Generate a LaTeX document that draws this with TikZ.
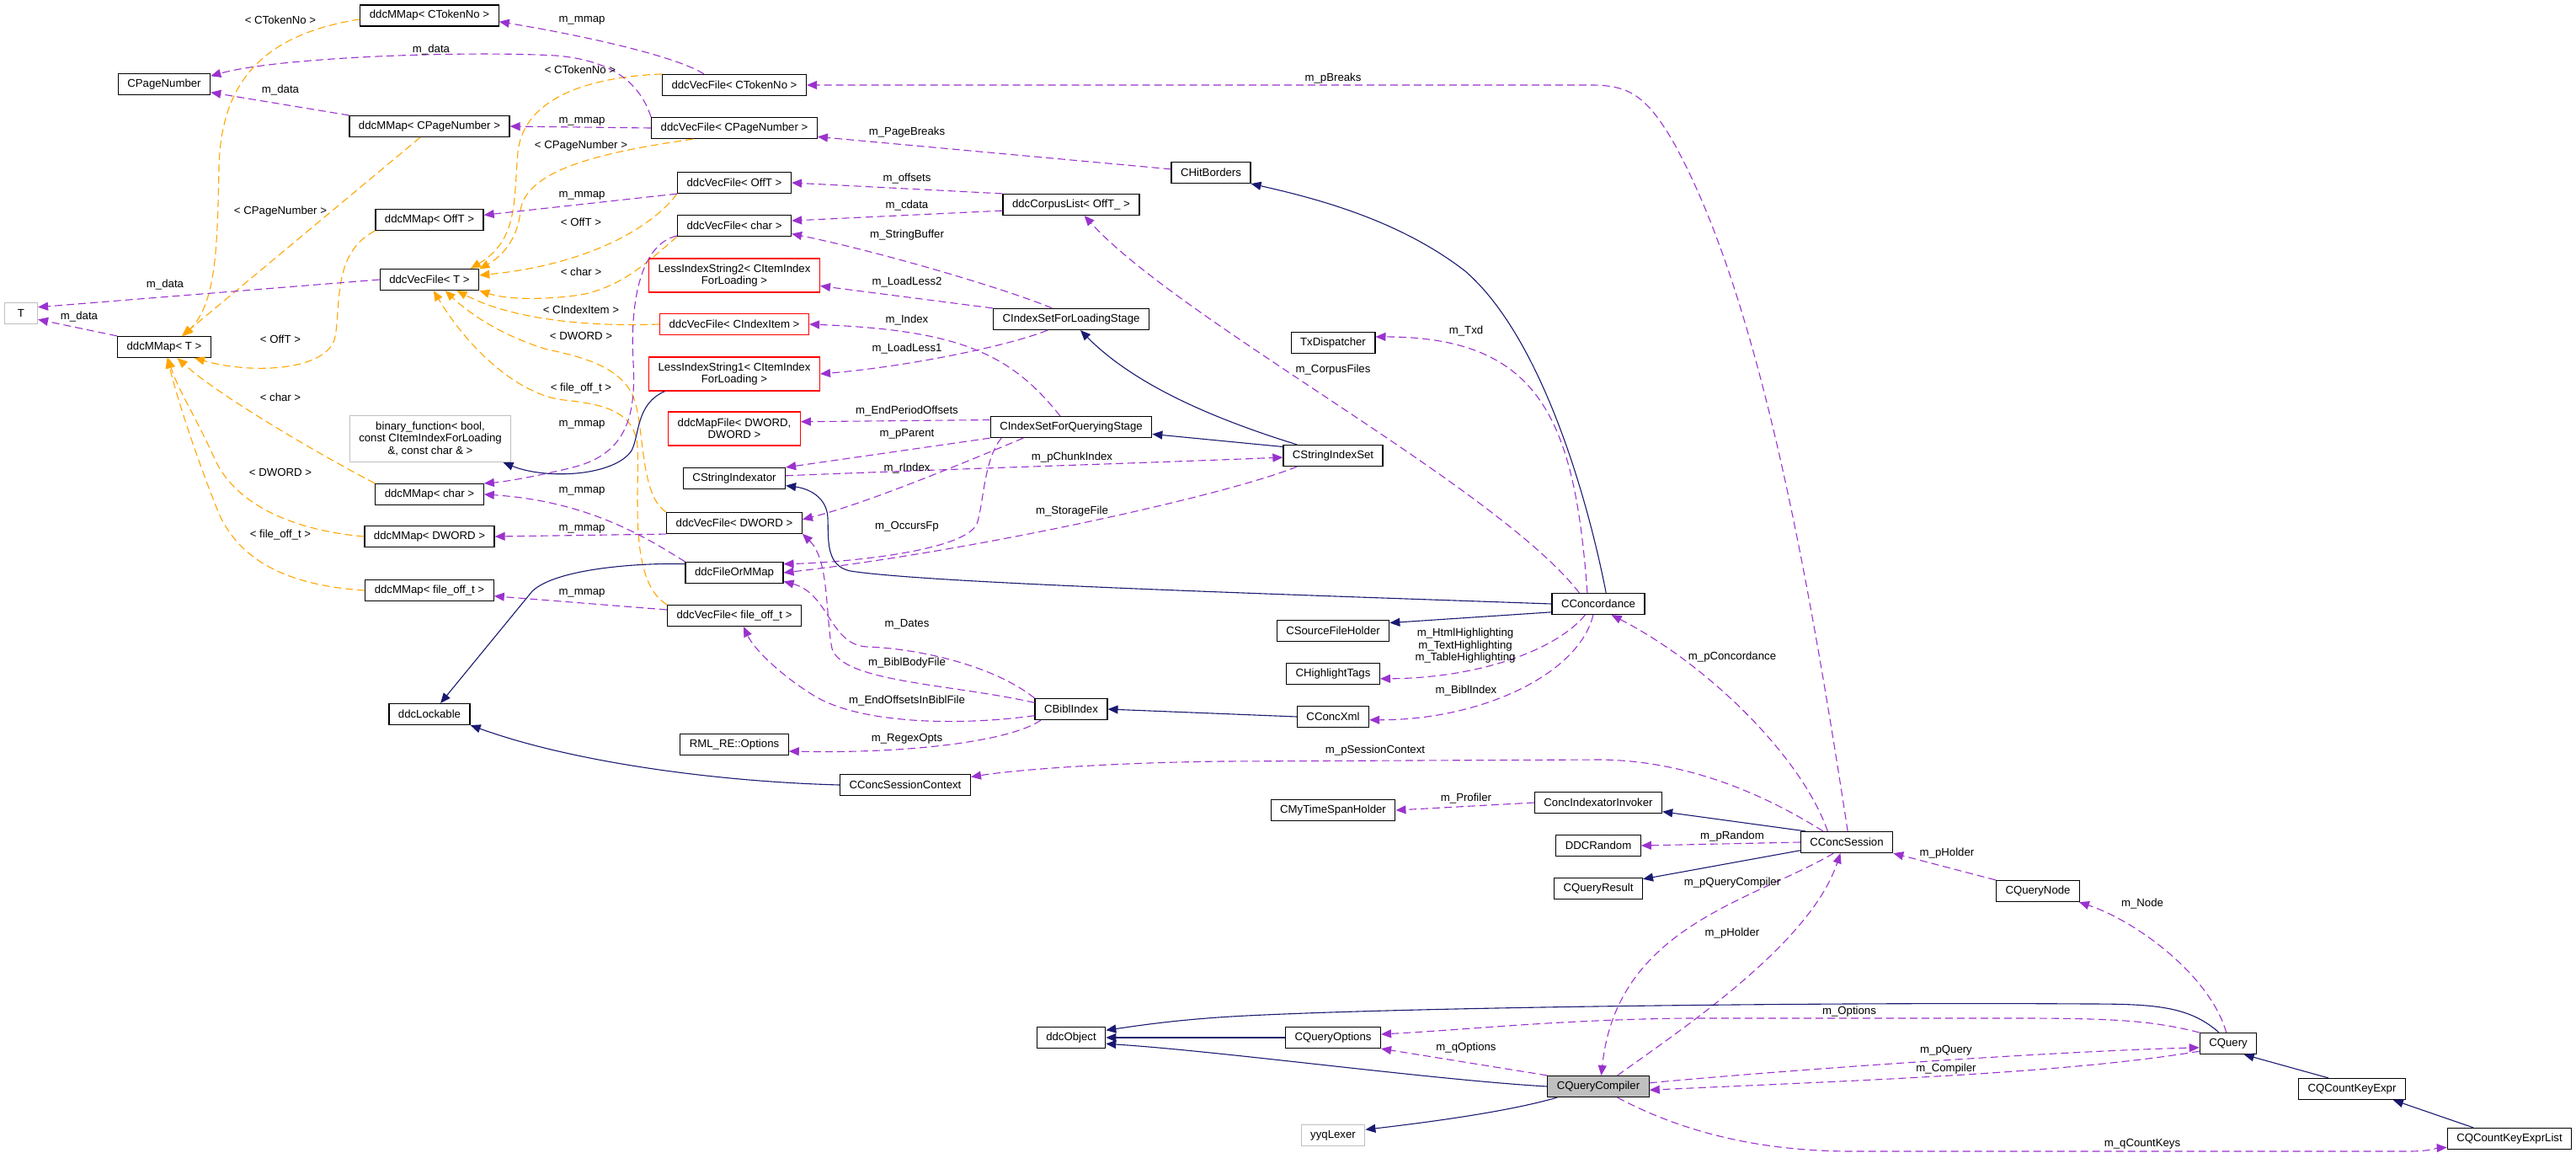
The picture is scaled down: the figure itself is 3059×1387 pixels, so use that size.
\documentclass[tikz,border=0pt]{standalone}
\usepackage{fontspec}
\setmainfont{Liberation Sans}
\usepackage{tikz}
\usepackage{xcolor}
\usetikzlibrary{arrows.meta, positioning}
\definecolor{usepurple}{HTML}{9A32CD}
\definecolor{tplorange}{HTML}{FFA500}
\definecolor{inhnavy}{HTML}{191970}
\tikzstyle{cls} = [draw=black, line width=1.2pt, fill=white,
minimum height=25pt, inner xsep=11pt, inner ysep=3pt,
align=center, font=\fontsize{13.2}{14.5}\selectfont]
\tikzstyle{redcls} = [cls, draw=red]
\tikzstyle{greycls} = [cls, draw=black!25]
\tikzstyle{lbl} = [inner sep=0pt, align=center, font=\fontsize{13.2}{14.5}\selectfont]
\tikzstyle{usage} = [usepurple, line width=1.1pt, dash pattern=on 9pt off 5pt,
-{Triangle[length=12pt, width=10pt]}]
\tikzstyle{templ} = [tplorange, line width=1.1pt, dash pattern=on 9pt off 5pt,
-{Triangle[length=12pt, width=10pt]}]
\tikzstyle{inherit} = [inhnavy, line width=1.1pt, -{Triangle[length=12pt, width=10pt]}]

\begin{document}
\begin{tikzpicture}[x=1pt, y=-1pt]
    \useasboundingbox (0,0) rectangle (3059,1387);

    % classes
    \node[greycls, minimum width=39pt] (T) at (25,372) {T};
    \node[cls] (cpn) at (195,100) {CPageNumber};
    \node[cls] (mmT) at (195,412) {ddcMMap< T >};
    \node[cls] (mmTok) at (510,18.5) {ddcMMap< CTokenNo >};
    \node[cls] (mmCpn) at (510,150) {ddcMMap< CPageNumber >};
    \node[cls] (mmOff) at (510,261) {ddcMMap< OffT >};
    \node[cls] (vfT) at (510,332) {ddcVecFile< T >};
    \node[greycls, minimum height=55pt] (binf) at (511,521) {binary\_function< bool,\\ const CItemIndexForLoading\\ \&, const char \& >};
    \node[cls] (mmChar) at (510,587) {ddcMMap< char >};
    \node[cls] (mmDw) at (510,637) {ddcMMap< DWORD >};
    \node[cls] (mmFo) at (510,701) {ddcMMap< file\_off\_t >};
    \node[cls] (lock) at (510,848) {ddcLockable};
    \node[cls] (vfTok) at (872,101) {ddcVecFile< CTokenNo >};
    \node[cls] (vfCpn) at (872,152) {ddcVecFile< CPageNumber >};
    \node[cls] (vfOff) at (872,217) {ddcVecFile< OffT >};
    \node[cls] (vfChar) at (872,268) {ddcVecFile< char >};
    \node[redcls, minimum height=40pt] (lis2) at (872,327) {LessIndexString2< CItemIndex\\ForLoading >};
    \node[redcls] (vfItem) at (872,385) {ddcVecFile< CIndexItem >};
    \node[redcls, minimum height=40pt] (lis1) at (872,444) {LessIndexString1< CItemIndex\\ForLoading >};
    \node[redcls, minimum height=40pt] (mapf) at (872,509) {ddcMapFile< DWORD,\\DWORD >};
    \node[cls] (sidx) at (872,568) {CStringIndexator};
    \node[cls] (vfDw) at (872,621) {ddcVecFile< DWORD >};
    \node[cls] (fomm) at (872,680) {ddcFileOrMMap};
    \node[cls] (vfFo) at (872,731) {ddcVecFile< file\_off\_t >};
    \node[cls] (rml) at (872,884) {RML\_RE::Options};
    \node[cls] (ctx) at (1075,932) {CConcSessionContext};
    \node[cls] (corp) at (1272,243) {ddcCorpusList< OffT\_ >};
    \node[cls] (isLoad) at (1272,379) {CIndexSetForLoadingStage};
    \node[cls] (isQuery) at (1272,507) {CIndexSetForQueryingStage};
    \node[cls] (bibl) at (1272,842) {CBiblIndex};
    \node[cls] (obj) at (1272,1232) {ddcObject};
    \node[cls] (hit) at (1438,205) {CHitBorders};
    \node[cls] (txd) at (1583,407) {TxDispatcher};
    \node[cls] (sset) at (1583,541) {CStringIndexSet};
    \node[cls] (src) at (1583,749) {CSourceFileHolder};
    \node[cls] (hl) at (1583,800) {CHighlightTags};
    \node[cls] (cxml) at (1583,851) {CConcXml};
    \node[cls] (mts) at (1583,962) {CMyTimeSpanHolder};
    \node[cls] (qopt) at (1583,1232) {CQueryOptions};
    \node[greycls] (lex) at (1583,1348) {yyqLexer};
    \node[cls] (conc) at (1898,717) {CConcordance};
    \node[cls] (invk) at (1898,953) {ConcIndexatorInvoker};
    \node[cls] (rnd) at (1898,1004) {DDCRandom};
    \node[cls] (qres) at (1898,1055) {CQueryResult};
    \node[cls, fill=black!25] (qc) at (1898,1290) {CQueryCompiler};
    \node[cls] (sess) at (2193,1000) {CConcSession};
    \node[cls] (qnode) at (2420,1058) {CQueryNode};
    \node[cls] (query) at (2646,1239) {CQuery};
    \node[cls] (cke) at (2793,1293) {CQCountKeyExpr};
    \node[cls] (ckel) at (2980,1352) {CQCountKeyExprList};

    % template instances
    \draw[templ] (mmTok.-177) .. controls (320,40) and (262,90) .. (260,200) .. controls (258,300) and (256,360) .. (mmT.30);
    \draw[templ] (mmCpn.-130) -- (mmT.32);
    \draw[templ] (mmOff.south west) .. controls (395,300) and (405,360) .. (398,400) .. controls (390,440) and (300,445) .. (mmT.-20);
    \draw[templ] (mmChar.north west) .. controls (380,540) and (260,470) .. (mmT.-40);
    \draw[templ] (mmDw.west) .. controls (350,630) and (280,600) .. (255,545) .. controls (235,500) and (210,460) .. (mmT.-70);
    \draw[templ] (mmFo.west) .. controls (340,695) and (285,665) .. (260,610) .. controls (240,560) and (215,490) .. (mmT.-75);
    \draw[templ] (vfTok.north west) .. controls (690,92) and (622,120) .. (615,180) .. controls (610,240) and (615,285) .. (vfT.15);
    \draw[templ] (vfCpn.-165) .. controls (720,180) and (625,200) .. (618,250) .. controls (615,285) and (595,305) .. (vfT.12);
    \draw[templ] (vfOff.south west) .. controls (770,275) and (690,315) .. (vfT.5);
    \draw[templ] (vfChar.south west) .. controls (770,310) and (740,340) .. (690,350) .. controls (640,357) and (600,355) .. (vfT.south east);
    \draw[templ] (vfItem.west) .. controls (700,388) and (610,380) .. (vfT.-22);
    \draw[templ] (vfDw.north west) .. controls (762,590) and (765,520) .. (755,480) .. controls (745,440) and (700,425) .. (650,415) .. controls (600,400) and (560,375) .. (vfT.-35);
    \draw[templ] (vfFo.north west) .. controls (745,690) and (760,580) .. (757,530) .. controls (754,490) and (720,480) .. (670,475) .. controls (620,470) and (560,420) .. (vfT.-70);

    % members
    \draw[usage] (vfT.west) -- (T.20);
    \draw[usage] (mmT.north west) -- (T.-20);
    \draw[usage] (vfCpn.north west) .. controls (760,100) and (730,72) .. (660,66) .. controls (550,60) and (330,68) .. (cpn.10);
    \draw[usage] (mmCpn.north west) -- (cpn.-10);
    \draw[usage] (vfTok.160) .. controls (800,65) and (680,40) .. (mmTok.-5);
    \draw[usage] (vfCpn.west) -- (mmCpn.east);
    \draw[usage] (vfOff.south west) -- (mmOff.5);
    \draw[usage] (vfChar.-170) .. controls (760,290) and (748,360) .. (752,430) .. controls (756,500) and (740,540) .. (680,555) .. controls (640,565) and (600,572) .. (mmChar.north east);
    \draw[usage] (fomm.north west) .. controls (770,640) and (700,595) .. (mmChar.east);
    \draw[usage] (vfDw.south west) -- (mmDw.east);
    \draw[usage] (vfFo.175) -- (mmFo.-5);
    \draw[usage] (hit.175) -- (vfCpn.-6);
    \draw[usage] (corp.north west) -- (vfOff.east);
    \draw[usage] (corp.-175) -- (vfChar.5);
    \draw[usage] (isLoad.150) .. controls (1200,345) and (1050,300) .. (vfChar.-8);
    \draw[usage] (isLoad.north west) -- (lis2.-7);
    \draw[usage] (isQuery.135) .. controls (1200,420) and (1140,392) .. (vfItem.east);
    \draw[usage] (isLoad.-155) .. controls (1200,410) and (1080,435) .. (lis1.east);
    \draw[usage] (isQuery.175) -- (mapf.6);
    \draw[usage] (isQuery.south west) -- (sidx.north east);
    \draw[usage] (sidx.3) .. controls (1100,558) and (1350,550) .. (sset.-178);
    \draw[usage] (isQuery.-167) .. controls (1120,560) and (1020,600) .. (vfDw.3);
    \draw[usage] (isQuery.-171) .. controls (1168,545) and (1168,600) .. (1160,622) .. controls (1145,655) and (1000,668) .. (fomm.10);
    \draw[usage] (sset.-163) .. controls (1450,590) and (1150,655) .. (fomm.east);
    \draw[usage] (bibl.north west) .. controls (1180,790) and (1090,770) .. (1030,768) .. controls (985,766) and (985,705) .. (fomm.-10);
    \draw[usage] (bibl.170) .. controls (1130,812) and (1000,810) .. (988,770) .. controls (980,730) and (985,665) .. (vfDw.-9);
    \draw[usage] (bibl.-170) .. controls (1140,862) and (1020,860) .. (965,825) .. controls (925,800) and (895,770) .. (vfFo.-50);
    \draw[usage] (bibl.-160) .. controls (1200,880) and (1080,895) .. (rml.-7);
    \draw[usage] (conc.135) .. controls (1870,500) and (1830,400) .. (txd.8);
    \draw[usage] (conc.150) .. controls (1780,580) and (1400,380) .. (corp.-40);
    \draw[usage] (conc.-140) .. controls (1850,770) and (1760,805) .. (hl.-6);
    \draw[usage] (conc.-115) .. controls (1875,800) and (1760,855) .. (cxml.-5);
    \draw[usage] (sess.85) .. controls (2150,700) and (2090,350) .. (1985,165) .. controls (1955,115) and (1935,101) .. (1890,101) -- (vfTok.east);
    \draw[usage] (sess.150) .. controls (2140,900) and (2030,790) .. (conc.-40);
    \draw[usage] (sess.155) .. controls (2090,940) and (2000,903) .. (1900,902) -- (1450,904) .. controls (1300,906) and (1200,915) .. (ctx.7);
    \draw[usage] (invk.west) -- (mts.east);
    \draw[usage] (sess.west) -- (rnd.east);
    \draw[usage] (qnode.north west) -- (sess.south east);
    \draw[usage] (query.100) .. controls (2625,1160) and (2540,1095) .. (qnode.-15);
    \draw[usage] (qc.30) .. controls (2000,1220) and (2150,1120) .. (sess.-120);
    \draw[usage] (sess.-140) .. controls (2080,1070) and (1920,1100) .. (qc.75);
    \draw[usage] (query.north west) .. controls (2560,1213) and (2520,1209) .. (2400,1209) -- (2000,1209) .. controls (1850,1211) and (1750,1222) .. (qopt.4);
    \draw[usage] (qc.north west) -- (qopt.south east);
    \draw[usage] (qc.4) .. controls (2150,1268) and (2450,1248) .. (query.-172);
    \draw[usage] (query.-165) .. controls (2450,1275) and (2200,1283) .. (qc.-4);
    \draw[usage] (qc.-30) .. controls (1990,1340) and (2080,1367) .. (2200,1367) -- (2860,1367) .. controls (2885,1367) and (2895,1363) .. (ckel.-172);

    % base classes
    \draw[inherit] (conc.55) .. controls (1885,590) and (1830,400) .. (1740,322) .. controls (1660,260) and (1560,235) .. (hit.south east);
    \draw[inherit] (sset.163) .. controls (1450,500) and (1350,460) .. (isLoad.-50);
    \draw[inherit] (sset.170) -- (isQuery.-5);
    \draw[inherit] (lis1.-166) .. controls (755,480) and (760,515) .. (750,535) .. controls (730,565) and (650,570) .. (binf.-18);
    \draw[inherit] (fomm.170) .. controls (760,668) and (660,675) .. (632,702) -- (lock.45);
    \draw[inherit] (ctx.west) .. controls (850,928) and (680,905) .. (lock.south east);
    \draw[inherit] (conc.west) .. controls (1500,705) and (1100,692) .. (1010,678) .. controls (980,672) and (984,640) .. (983,615) .. controls (982,590) and (960,580) .. (sidx.-8);
    \draw[inherit] (conc.-170) -- (src.8);
    \draw[inherit] (cxml.west) -- (bibl.east);
    \draw[inherit] (sess.165) -- (invk.-8);
    \draw[inherit] (sess.-170) -- (qres.12);
    \draw[inherit] (qopt.west) -- (obj.east);
    \draw[inherit] (qc.west) .. controls (1700,1282) and (1450,1248) .. (obj.-10);
    \draw[inherit] (query.130) .. controls (2600,1195) and (2560,1192) .. (2480,1192) .. controls (2200,1190) and (1700,1195) .. (1480,1206) .. controls (1400,1210) and (1350,1218) .. (obj.12);
    \draw[inherit] (qc.-165) .. controls (1790,1320) and (1700,1332) .. (lex.10);
    \draw[inherit] (cke.155) -- (query.-35);
    \draw[inherit] (ckel.163) -- (cke.-15);

    % edge labels
    \node[lbl] (lTok1) at (333,24) {< CTokenNo >};
    \node[lbl] (lData1) at (512,59) {m\_data};
    \node[lbl] (lMm1) at (691,24) {m\_mmap};
    \node[lbl] (lTok2) at (689,83) {< CTokenNo >};
    \node[lbl] (lData2) at (333,107) {m\_data};
    \node[lbl] (lMm2) at (691,144) {m\_mmap};
    \node[lbl] (lCpn2) at (690,173) {< CPageNumber >};
    \node[lbl] (lMm3) at (691,232) {m\_mmap};
    \node[lbl] (lCpn1) at (333,251) {< CPageNumber >};
    \node[lbl] (lOff2) at (690,264) {< OffT >};
    \node[lbl] (lChar2) at (690,323) {< char >};
    \node[lbl] (lData3) at (196,338) {m\_data};
    \node[lbl] (lItem) at (690,368) {< CIndexItem >};
    \node[lbl] (lData4) at (94,376) {m\_data};
    \node[lbl] (lDw2) at (690,399) {< DWORD >};
    \node[lbl] (lOff1) at (333,403) {< OffT >};
    \node[lbl] (lFo2) at (690,461) {< file\_off\_t >};
    \node[lbl] (lChar1) at (333,472) {< char >};
    \node[lbl] (lMm4) at (691,504) {m\_mmap};
    \node[lbl] (lDw1) at (333,561) {< DWORD >};
    \node[lbl] (lMm5) at (691,583) {m\_mmap};
    \node[lbl] (lMm6) at (691,628) {m\_mmap};
    \node[lbl] (lFo1) at (333,635) {< file\_off\_t >};
    \node[lbl] (lMm7) at (691,704) {m\_mmap};
    \node[lbl] (lBreaks) at (1583,93) {m\_pBreaks};
    \node[lbl] (lPgBreaks) at (1077,157) {m\_PageBreaks};
    \node[lbl] (lOffsets) at (1077,212) {m\_offsets};
    \node[lbl] (lCdata) at (1077,244) {m\_cdata};
    \node[lbl] (lStrBuf) at (1077,279) {m\_StringBuffer};
    \node[lbl] (lLess2) at (1077,335) {m\_LoadLess2};
    \node[lbl] (lIndex) at (1077,380) {m\_Index};
    \node[lbl] (lLess1) at (1077,414) {m\_LoadLess1};
    \node[lbl] (lEndPer) at (1077,488) {m\_EndPeriodOffsets};
    \node[lbl] (lParent) at (1077,515) {m\_pParent};
    \node[lbl] (lRIndex) at (1077,556) {m\_rIndex};
    \node[lbl] (lChunk) at (1273,543) {m\_pChunkIndex};
    \node[lbl] (lOccurs) at (1077,625) {m\_OccursFp};
    \node[lbl] (lStorage) at (1273,607) {m\_StorageFile};
    \node[lbl] (lDates) at (1077,741) {m\_Dates};
    \node[lbl] (lBody) at (1077,787) {m\_BiblBodyFile};
    \node[lbl] (lEndOff) at (1077,832) {m\_EndOffsetsInBiblFile};
    \node[lbl] (lRegex) at (1077,877) {m\_RegexOpts};
    \node[lbl] (lTxd) at (1741,393) {m\_Txd};
    \node[lbl] (lCorpus) at (1583,439) {m\_CorpusFiles};
    \node[lbl] (lHigh) at (1740,767) {m\_HtmlHighlighting\\m\_TextHighlighting\\m\_TableHighlighting};
    \node[lbl] (lBibl) at (1741,820) {m\_BiblIndex};
    \node[lbl] (lConc) at (2057,780) {m\_pConcordance};
    \node[lbl] (lCtx) at (1633,891) {m\_pSessionContext};
    \node[lbl] (lProf) at (1741,948) {m\_Profiler};
    \node[lbl] (lRand) at (2057,993) {m\_pRandom};
    \node[lbl] (lHold1) at (2312,1013) {m\_pHolder};
    \node[lbl] (lQComp) at (2057,1048) {m\_pQueryCompiler};
    \node[lbl] (lHold2) at (2057,1108) {m\_pHolder};
    \node[lbl] (lNode) at (2544,1073) {m\_Node};
    \node[lbl] (lOpts) at (2196,1201) {m\_Options};
    \node[lbl] (lQOpts) at (1741,1244) {m\_qOptions};
    \node[lbl] (lQuery) at (2311,1247) {m\_pQuery};
    \node[lbl] (lComp) at (2311,1269) {m\_Compiler};
    \node[lbl] (lCount) at (2544,1358) {m\_qCountKeys};
\end{tikzpicture}
\end{document}
